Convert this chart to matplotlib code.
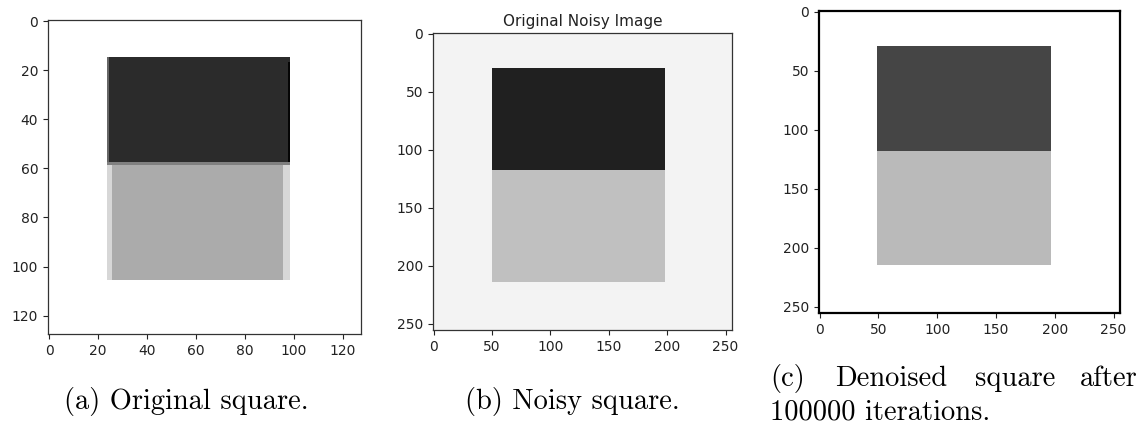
import matplotlib
matplotlib.use("Agg")
import matplotlib.pyplot as plt
import numpy as np

# image sizes (pixels)
size_a = 128
size_b = 256
size_c = 256

# grey levels (0 = black, 1 = white): background, top block, bottom block
levels_a = [1.0, 0.17, 0.67]
levels_b = [0.95, 0.13, 0.75]
levels_c = [1.0, 0.27, 0.73]

# block rows / cols: [top_start, split, bottom_end], [col_start, col_end]
rows_a = [15, 59, 106]
cols_a = [24, 99]
rows_b = [30, 118, 215]
cols_b = [50, 198]
rows_c = [30, 119, 215]
cols_c = [49, 197]

# edge strips in the original square (cols, grey)
edge_cols_a = [[24, 26], [96, 99]]
edge_level_a = 0.84

ticks_a = [0, 20, 40, 60, 80, 100, 120]
ticks_bc = [0, 50, 100, 150, 200, 250]

captions = ["(a) Original square.", "(b) Noisy square."]
caption_c_words = ["(c)", "Denoised", "square", "after"]
caption_c_line2 = "100000 iterations."


def make_image(n, levels, rows, cols):
    img = np.full((n, n), levels[0])
    img[rows[0]:rows[1], cols[0]:cols[1]] = levels[1]
    img[rows[1]:rows[2], cols[0]:cols[1]] = levels[2]
    return img


img_a = make_image(size_a, levels_a, rows_a, cols_a)
for c0, c1 in edge_cols_a:
    img_a[rows_a[1]:rows_a[2], c0:c1] = edge_level_a
img_a[rows_a[0]:rows_a[1], cols_a[0]] = 0.4
img_a[rows_a[0] + 2:rows_a[1], cols_a[1] - 1] = 0.02
img_a[rows_a[1] - 1, cols_a[0]:cols_a[1]] = 0.5
img_b = make_image(size_b, levels_b, rows_b, cols_b)
img_c = make_image(size_c, levels_c, rows_c, cols_c)

fig = plt.figure(figsize=(11.45, 4.25), dpi=100)

W, H = 1145.0, 425.0


def box(x0, y0, x1, y1):
    return [x0 / W, 1 - y1 / H, (x1 - x0) / W, (y1 - y0) / H]


ax_a = fig.add_axes(box(48, 20, 361, 334))
ax_b = fig.add_axes(box(433, 33, 732, 330))
ax_c = fig.add_axes(box(819, 11, 1120, 313))

for ax, img, ticks in [(ax_a, img_a, ticks_a), (ax_b, img_b, ticks_bc),
                       (ax_c, img_c, ticks_bc)]:
    ax.imshow(img, cmap="gray", vmin=0, vmax=1, aspect="auto",
              interpolation="nearest")
    ax.set_xticks(ticks)
    ax.set_yticks(ticks)
    ax.tick_params(labelsize=10, colors="#222222", length=3.5)
    for s in ax.spines.values():
        s.set_color("#333333")
        s.set_linewidth(0.9)

for s in ax_c.spines.values():
    s.set_color("black")
    s.set_linewidth(1.6)

ax_b.set_title("Original Noisy Image", fontsize=11, color="#222222", pad=5)

cap_font = dict(family="cmr10", fontsize=20.5, color="black")
fig.text(186 / W, 1 - 409 / H, captions[0], ha="center", va="baseline", **cap_font)
fig.text(572 / W, 1 - 409 / H, captions[1], ha="center", va="baseline", **cap_font)

word_x = [770, 835, 975, 1138]
for i, (wd, x) in enumerate(zip(caption_c_words, word_x)):
    fig.text(x / W, 1 - 386 / H, wd, ha="right" if i == 3 else "left",
             va="baseline", **cap_font)
fig.text(770 / W, 1 - 419 / H, caption_c_line2, ha="left", va="baseline", **cap_font)

fig.savefig("out.png", dpi=100)
